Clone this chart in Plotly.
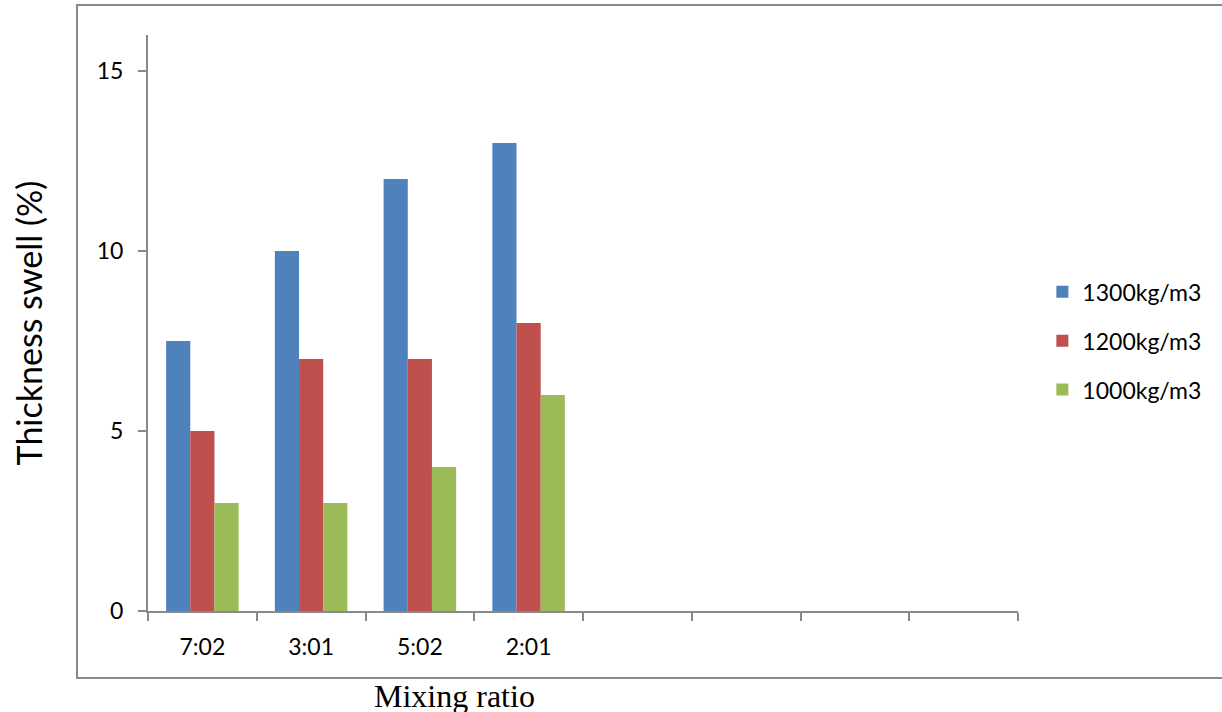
import plotly.graph_objects as go

categories = ["7:02", "3:01", "5:02", "2:01", " ", "  ", "   ", "    "]
series_names = ["1300kg/m3", "1200kg/m3", "1000kg/m3"]
s1300 = [7.5, 10, 12, 13, None, None, None, None]
s1200 = [5, 7, 7, 8, None, None, None, None]
s1000 = [3, 3, 4, 6, None, None, None, None]
y_ticks = [0, 5, 10, 15]

colors = ["#4F81BD", "#C0504D", "#9BBB59"]
axis_col = "#898989"
font_sans = "Lato, 'Open Sans', sans-serif"

W, H = 1222, 712
L, R, T, B = 148, 204, 35, 101
pw, ph = W - L - R, H - T - B


def px_x(p):
    return (p - L) / pw


def px_y(p):
    return (T + ph - p) / ph


fig = go.Figure()
for i, (name, vals) in enumerate(zip(series_names, [s1300, s1200, s1000])):
    fig.add_trace(go.Bar(
        x=categories, y=vals, name=name,
        marker=dict(color=colors[i], line=dict(width=0)),
        legendgroup=name,
    ))

fig.update_layout(
    width=W, height=H,
    margin=dict(l=L, r=R, t=T, b=B, autoexpand=False),
    paper_bgcolor="white", plot_bgcolor="white",
    barmode="group", bargap=0.333, bargroupgap=0,
    font=dict(family=font_sans, size=23, color="black"),
    showlegend=True,
    legend=dict(x=1.028, xanchor="left", y=0.469, yanchor="middle",
                font=dict(size=23), tracegroupgap=16,
                bgcolor="rgba(0,0,0,0)"),
    xaxis=dict(
        type="category", categoryorder="array", categoryarray=categories,
        showline=True, linecolor=axis_col, linewidth=2,
        ticks="outside", ticklen=8, tickcolor=axis_col, tickwidth=2,
        tickson="boundaries", showgrid=False, zeroline=False,
        tickfont=dict(size=23), ticklabelstandoff=14, automargin=False,
    ),
    yaxis=dict(
        range=[0, 16], tickvals=y_ticks, ticktext=[str(v) for v in y_ticks],
        showline=True, linecolor=axis_col, linewidth=2,
        ticks="outside", ticklen=8, tickcolor=axis_col, tickwidth=2,
        showgrid=False, zeroline=False, automargin=False,
        tickfont=dict(size=23), ticklabelstandoff=10,
        title=dict(text="Thickness swell (%)", font=dict(size=34), standoff=44),
    ),
    annotations=[dict(text="Mixing ratio", xref="paper", yref="paper",
                      x=px_x(454), y=px_y(696), xanchor="center", yanchor="middle",
                      showarrow=False,
                      font=dict(family="'Liberation Serif', 'Times New Roman', serif",
                                size=32, color="black"))],
    shapes=[dict(type="rect", xref="paper", yref="paper",
                 x0=px_x(77), x1=px_x(1250),
                 y0=px_y(678), y1=px_y(5),
                 line=dict(color=axis_col, width=2), fillcolor="rgba(0,0,0,0)",
                 layer="below")],
)

fig.write_html("out.html", config={"displayModeBar": False},
               post_script="document.body.style.margin='0';")
